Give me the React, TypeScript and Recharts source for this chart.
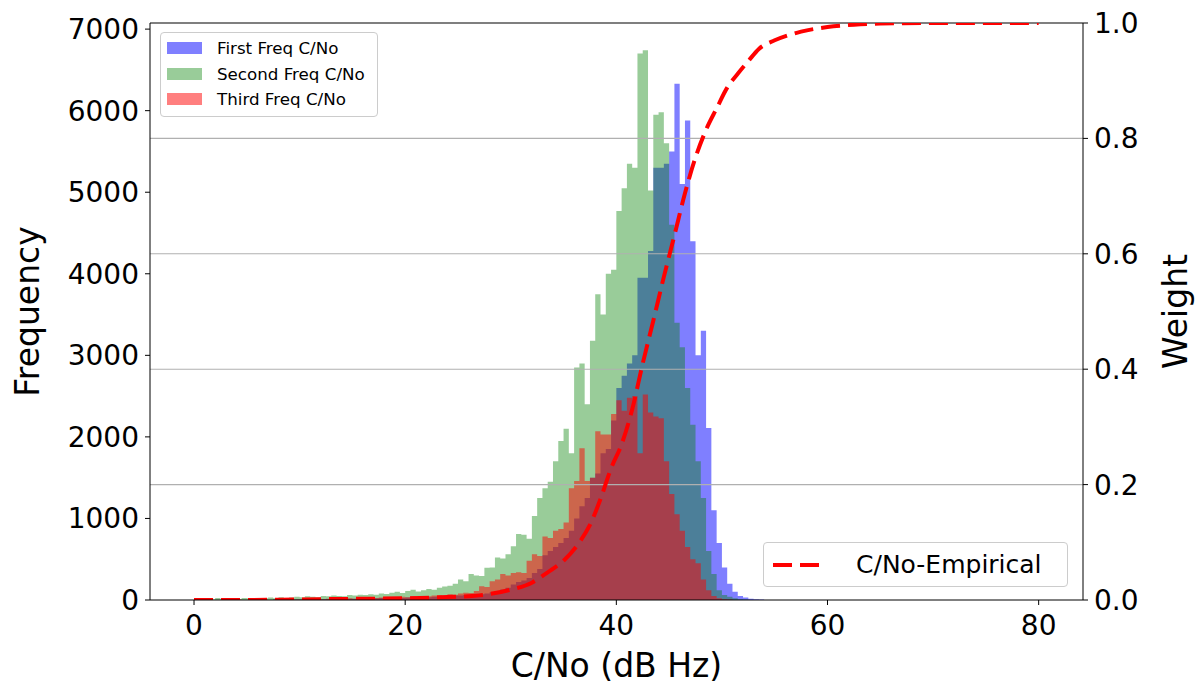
import React from "react";
import {
  ComposedChart,
  Area,
  Line,
  XAxis,
  YAxis,
  ReferenceLine,
  Label,
} from "recharts";

// histogram bins: 0.5 dB wide, starting at 0 dB
const BIN_START = 0;
const BIN_WIDTH = 0.5;

const FIRST_COUNTS = [
  0, 0, 0, 0, 0, 0, 0, 0, 0, 0,
  0, 0, 0, 0, 0, 5, 0, 5, 5, 5,
  5, 5, 10, 5, 10, 10, 10, 15, 10, 15,
  15, 20, 15, 20, 20, 25, 20, 25, 30, 25,
  30, 35, 30, 40, 35, 40, 45, 45, 50, 55,
  55, 60, 60, 65, 70, 80, 95, 110, 130, 150,
  190, 220, 240, 270, 330, 380, 550, 600, 650, 700,
  760, 850, 1000, 1150, 1250, 1500, 1550, 1800, 1850, 2200,
  2600, 2750, 2900, 3000, 3950, 3950, 4280, 5300, 5300, 5350,
  5500, 6330, 5100, 5880, 4400, 3000, 3300, 2110, 1100, 700,
  400, 200, 100, 50, 30, 15, 10, 5, 0, 0,
];

const SECOND_COUNTS = [
  0, 0, 10, 5, 25, 10, 15, 20, 10, 25,
  20, 15, 25, 20, 30, 20, 35, 25, 30, 40,
  35, 45, 40, 35, 50, 45, 55, 50, 45, 60,
  55, 65, 60, 70, 65, 80, 75, 90, 100, 85,
  110, 125, 105, 120, 135, 125, 150, 165, 175, 200,
  250, 230, 320, 300, 295, 395, 400, 520, 510, 560,
  660, 810, 800, 750, 1030, 1250, 1370, 1450, 1700, 1950,
  2100, 1800, 2850, 2900, 2400, 3180, 3750, 3500, 4000, 4050,
  4770, 5050, 5350, 5300, 6700, 6740, 5020, 5950, 5980, 5600,
  4600, 3400, 3100, 2600, 2150, 1700, 1250, 600, 320, 120,
  60, 40, 20, 10, 5, 0, 0, 0, 0, 0,
];

const THIRD_COUNTS = [
  0, 0, 0, 0, 0, 0, 0, 0, 5, 0,
  0, 5, 0, 5, 0, 5, 5, 0, 5, 5,
  5, 10, 5, 10, 10, 15, 10, 15, 15, 20,
  15, 20, 25, 20, 25, 30, 25, 35, 30, 40,
  35, 45, 40, 50, 45, 55, 60, 55, 70, 65,
  80, 90, 85, 110, 170, 160, 230, 250, 320, 300,
  330, 340, 330, 480, 560, 540, 780, 760, 850, 870,
  950, 1370, 1460, 1860, 1460, 1500, 2070, 2030, 2030, 2280,
  2450, 2320, 2480, 2500, 1800, 2520, 2300, 2250, 2230, 1700,
  1300, 1050, 850, 650, 500, 450, 250, 120, 50, 20,
  10, 5, 0, 0, 0, 0, 0, 0, 0, 0,
];

// empirical weight curve (right axis)
const CDF_X = [
  0, 5, 10, 15, 20, 24, 27, 30, 32, 33.5, 35, 36.5, 37.5, 38.5, 39.5, 40.5,
  41.5, 42.5, 43.5, 44.5, 45.5, 46.5, 47.5, 48.5, 49.5, 50.5, 51.5, 52.5,
  53.5, 55, 57.5, 60, 62.5, 65, 70, 80,
];
const CDF_Y = [
  0, 0, 0.001, 0.002, 0.003, 0.005, 0.008, 0.018, 0.03, 0.048, 0.068, 0.1,
  0.13, 0.175, 0.228, 0.27, 0.33, 0.41, 0.484, 0.56, 0.632, 0.705, 0.767,
  0.815, 0.852, 0.888, 0.912, 0.934, 0.955, 0.97, 0.985, 0.993, 0.997, 0.999,
  1.0, 1.0,
];

const X_TICKS = [0, 20, 40, 60, 80];
const FREQ_TICKS = [0, 1000, 2000, 3000, 4000, 5000, 6000, 7000];
const WEIGHT_TICKS = [0, 0.2, 0.4, 0.6, 0.8, 1.0];
const GRID_WEIGHTS = [0.2, 0.4, 0.6, 0.8];

const FONT = "'DejaVu Sans', sans-serif";
const BLUE = "#0000ff";
const GREEN = "#008000";
const RED = "#ff0000";

const binCount = Math.max(
  FIRST_COUNTS.length,
  SECOND_COUNTS.length,
  THIRD_COUNTS.length
);
// one row per bin left edge, plus the closing edge
const histRows = Array.from({ length: binCount + 1 }, (_, i) => ({
  x: BIN_START + i * BIN_WIDTH,
  first: FIRST_COUNTS[i] ?? 0,
  second: SECOND_COUNTS[i] ?? 0,
  third: THIRD_COUNTS[i] ?? 0,
}));
const cdfRows = CDF_X.map((x, i) => ({ x, w: CDF_Y[i] }));

const tickStyle = { fontSize: 28, fill: "#000", fontFamily: FONT };

function VerticalTitle(props: any) {
  const vb = props.viewBox || { x: 0, y: 0, width: 0, height: 0 };
  const cx = vb.x + props.offsetX;
  const cy = vb.y + vb.height / 2;
  return (
    <text
      x={cx}
      y={cy}
      transform={`rotate(-90 ${cx} ${cy})`}
      textAnchor="middle"
      dominantBaseline="central"
      fontSize={33}
      fontFamily={FONT}
      fill="#000"
    >
      {props.text}
    </text>
  );
}

const legendItems = [
  { label: "First Freq C/No", color: BLUE, opacity: 0.5 },
  { label: "Second Freq C/No", color: GREEN, opacity: 0.4 },
  { label: "Third Freq C/No", color: RED, opacity: 0.5 },
];

export default function App() {
  return (
    <div
      style={{
        position: "absolute",
        left: 0,
        top: 0,
        width: 1201,
        height: 690,
        background: "#fff",
        fontFamily: FONT,
      }}
    >
      <ComposedChart
        width={1201}
        height={690}
        data={histRows}
        margin={{ top: 23, right: 0, left: 0, bottom: 0 }}
      >
        <XAxis
          dataKey="x"
          type="number"
          domain={[-4.17, 84.2]}
          ticks={X_TICKS}
          allowDataOverflow
          height={90}
          stroke="#000"
          tickSize={5}
          tickMargin={10}
          tick={tickStyle}
        >
          <Label
            value="C/No (dB Hz)"
            position="insideBottom"
            offset={13}
            fontSize={33}
            fontFamily={FONT}
            fill="#000"
          />
        </XAxis>
        <YAxis
          yAxisId="freq"
          domain={[0, 7075]}
          ticks={FREQ_TICKS}
          allowDataOverflow
          width={150}
          stroke="#000"
          tickSize={5}
          tickMargin={6}
          tick={tickStyle}
        >
          <Label
            content={(p: any) => (
              <VerticalTitle {...p} text="Frequency" offsetX={27} />
            )}
          />
        </YAxis>
        <YAxis
          yAxisId="weight"
          orientation="right"
          domain={[0, 1]}
          ticks={WEIGHT_TICKS}
          allowDataOverflow
          width={118}
          stroke="#000"
          tickSize={5}
          tickMargin={6}
          tick={tickStyle}
          tickFormatter={(v: number) => v.toFixed(1)}
        >
          <Label
            content={(p: any) => (
              <VerticalTitle {...p} text="Weight" offsetX={92} />
            )}
          />
        </YAxis>

        <Area
          yAxisId="freq"
          dataKey="first"
          type="stepAfter"
          stroke="none"
          fill={BLUE}
          fillOpacity={0.5}
          activeDot={false}
          isAnimationActive={false}
        />
        <Area
          yAxisId="freq"
          dataKey="second"
          type="stepAfter"
          stroke="none"
          fill={GREEN}
          fillOpacity={0.4}
          activeDot={false}
          isAnimationActive={false}
        />
        <Area
          yAxisId="freq"
          dataKey="third"
          type="stepAfter"
          stroke="none"
          fill={RED}
          fillOpacity={0.5}
          activeDot={false}
          isAnimationActive={false}
        />

        {GRID_WEIGHTS.map((w) => (
          <ReferenceLine
            key={w}
            yAxisId="weight"
            y={w}
            stroke="#b0b0b0"
            strokeWidth={1.1}
          />
        ))}
        {/* top spine */}
        <ReferenceLine yAxisId="weight" y={1} stroke="#000" strokeWidth={1.1} />

        <Line
          yAxisId="weight"
          data={cdfRows}
          dataKey="w"
          type="monotone"
          stroke={RED}
          strokeWidth={4}
          strokeDasharray="19 8"
          dot={false}
          activeDot={false}
          isAnimationActive={false}
        />
      </ComposedChart>

      {/* histogram legend */}
      <div
        style={{
          position: "absolute",
          left: 160,
          top: 32,
          width: 216,
          height: 83,
          border: "1px solid #cccccc",
          borderRadius: 4,
          background: "rgba(255,255,255,0.8)",
        }}
      >
        {legendItems.map((it, i) => (
          <div
            key={it.label}
            style={{
              position: "absolute",
              left: 6,
              top: 5 + i * 25.5,
              height: 20,
              display: "flex",
              alignItems: "center",
              whiteSpace: "nowrap",
            }}
          >
            <span
              style={{
                display: "inline-block",
                width: 35,
                height: 12,
                background: it.color,
                opacity: it.opacity,
              }}
            />
            <span
              style={{
                marginLeft: 15,
                fontSize: 16.7,
                color: "#000",
                fontFamily: FONT,
              }}
            >
              {it.label}
            </span>
          </div>
        ))}
      </div>

      {/* curve legend */}
      <div
        style={{
          position: "absolute",
          left: 763,
          top: 542,
          width: 303,
          height: 43,
          border: "1px solid #cccccc",
          borderRadius: 4,
          background: "rgba(255,255,255,0.8)",
          display: "flex",
          alignItems: "center",
        }}
      >
        <svg width={60} height={10} style={{ marginLeft: 9 }}>
          <line
            x1={0}
            y1={5}
            x2={48}
            y2={5}
            stroke={RED}
            strokeWidth={4}
            strokeDasharray="19 8"
          />
        </svg>
        <span
          style={{
            marginLeft: 23,
            fontSize: 25,
            color: "#000",
            fontFamily: FONT,
            whiteSpace: "nowrap",
          }}
        >
          C/No-Empirical
        </span>
      </div>
    </div>
  );
}
